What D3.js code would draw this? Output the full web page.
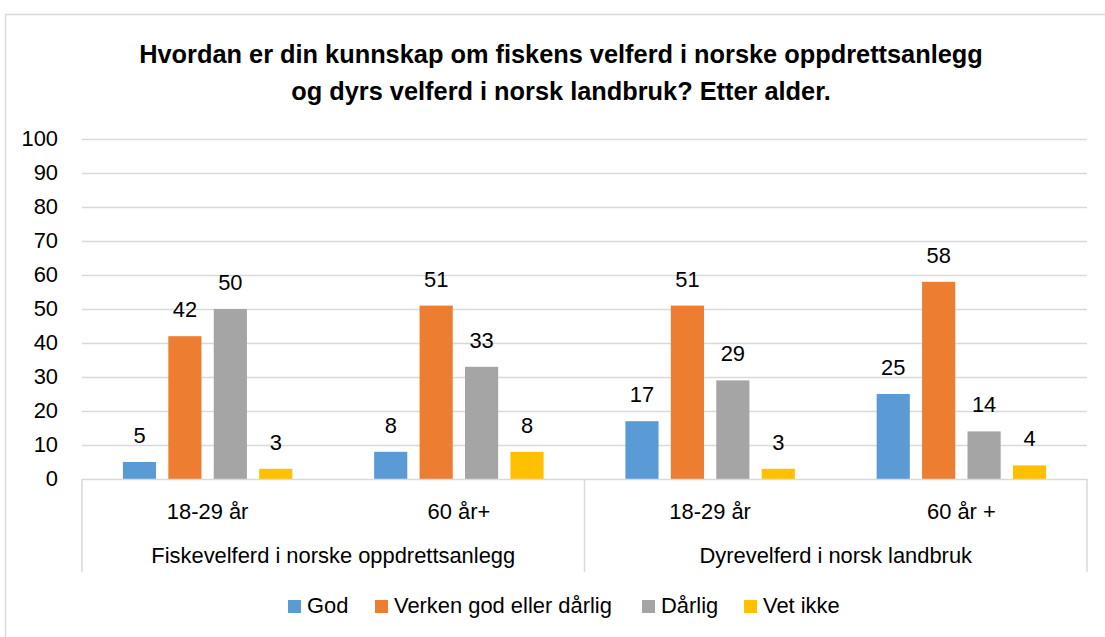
<!DOCTYPE html>
<html><head><meta charset="utf-8">
<script src="https://cdn.jsdelivr.net/npm/d3@7"></script>
<style>
body{margin:0;background:#fff;}
text{font-family:"Liberation Sans",Arial,sans-serif;fill:#000;}
</style></head>
<body><svg id="c" width="1105" height="637"></svg>
<script>
const titleLines = ["Hvordan er din kunnskap om fiskens velferd i norske oppdrettsanlegg","og dyrs velferd i norsk landbruk? Etter alder."];
const groups = ["Fiskevelferd i norske oppdrettsanlegg","Dyrevelferd i norsk landbruk"];
const subcats = ["18-29 år","60 år+","18-29 år","60 år +"];
const subGroup = [0,0,1,1];
const seriesNames = ["God","Verken god eller dårlig","Dårlig","Vet ikke"];
const seriesColors = ["#5B9BD5","#ED7D31","#A5A5A5","#FFC000"];
const god = [5,8,17,25];
const verken = [42,51,51,58];
const darlig = [50,33,29,14];
const vetIkke = [3,8,3,4];
const yTicks = [0,10,20,30,40,50,60,70,80,90,100];

const seriesVals = [god,verken,darlig,vetIkke];
const svg = d3.select("#c");
const L=82,R=1087,T=139,B=479;

// measure to find base font size matching reference text widths
const probe = svg.append("text").style("font-size","20px").text(groups[0]);
const fs = Math.round(20*364/probe.node().getComputedTextLength()*10)/10;
probe.remove();
const FS = fs+"px";

svg.append("rect").attr("x",5.5).attr("y",14.5).attr("width",1110).attr("height",640)
  .attr("fill","none").attr("stroke","#d9d9d9").attr("stroke-width",1.5);

const y = d3.scaleLinear().domain([0,100]).range([B,T]);
const x0 = d3.scaleBand().domain(d3.range(subcats.length)).range([L,R]).paddingInner(0).paddingOuter(0);
const x1 = d3.scaleBand().domain(d3.range(seriesNames.length)).range([0,x0.bandwidth()]).paddingInner(0.27).paddingOuter(0.9);

// title
const tg = svg.append("g");
const t1 = tg.append("text").style("font-weight","bold").style("font-size","22px").text(titleLines[0]);
const tfs = 22*844/t1.node().getComputedTextLength();
t1.remove();
tg.selectAll("text").data(titleLines).join("text")
  .attr("x",561).attr("y",(d,i)=>63+i*37).attr("text-anchor","middle")
  .style("font-weight","bold").style("font-size",tfs+"px").text(d=>d);

// gridlines
svg.append("g").selectAll("line").data(yTicks.filter(d=>d>0)).join("line")
  .attr("x1",L).attr("x2",R).attr("y1",d=>y(d)+0.5).attr("y2",d=>y(d)+0.5)
  .attr("stroke","#d9d9d9").attr("stroke-width",1.5);

// y labels
svg.append("g").selectAll("text").data(yTicks).join("text")
  .attr("x",58).attr("y",d=>y(d)+7).attr("text-anchor","end")
  .style("font-size",FS).text(d=>d);

// bars
const bars = svg.append("g");
subcats.forEach((c,ci)=>{
  seriesVals.forEach((vals,si)=>{
    const bx = x0(ci)+x1(si);
    bars.append("rect").attr("x",bx).attr("y",y(vals[ci])).attr("width",x1.bandwidth())
      .attr("height",B-y(vals[ci])).attr("fill",seriesColors[si]);
    bars.append("text").attr("x",bx+x1.bandwidth()/2).attr("y",y(vals[ci])-19)
      .attr("text-anchor","middle").style("font-size",FS).text(vals[ci]);
  });
});

// axis lines
const ax = svg.append("g").attr("stroke","#d9d9d9").attr("stroke-width",1.5);
ax.append("line").attr("x1",L).attr("x2",R).attr("y1",B+0.5).attr("y2",B+0.5);
const groupEdges=[L, x0(2), R];
groupEdges.forEach(e=>ax.append("line").attr("x1",e).attr("x2",e).attr("y1",B).attr("y2",572));

// sub labels
svg.append("g").selectAll("text").data(subcats).join("text")
  .attr("x",(d,i)=>x0(i)+x0.bandwidth()/2).attr("y",519).attr("text-anchor","middle")
  .style("font-size",FS).text(d=>d);
// group labels
svg.append("g").selectAll("text").data(groups).join("text")
  .attr("x",(d,gi)=>{const idx=subGroup.map((g,i)=>g===gi?i:-1).filter(i=>i>=0);return (x0(idx[0])+x0(idx[idx.length-1])+x0.bandwidth())/2;})
  .attr("y",563).attr("text-anchor","middle").style("font-size",FS).text(d=>d);

// legend
const legX=[288,375,642,744];
const lg = svg.append("g");
seriesNames.forEach((n,i)=>{
  lg.append("rect").attr("x",legX[i]).attr("y",600).attr("width",13).attr("height",13).attr("fill",seriesColors[i]);
  lg.append("text").attr("x",legX[i]+19).attr("y",613).style("font-size",FS).text(n);
});
</script></body></html>
